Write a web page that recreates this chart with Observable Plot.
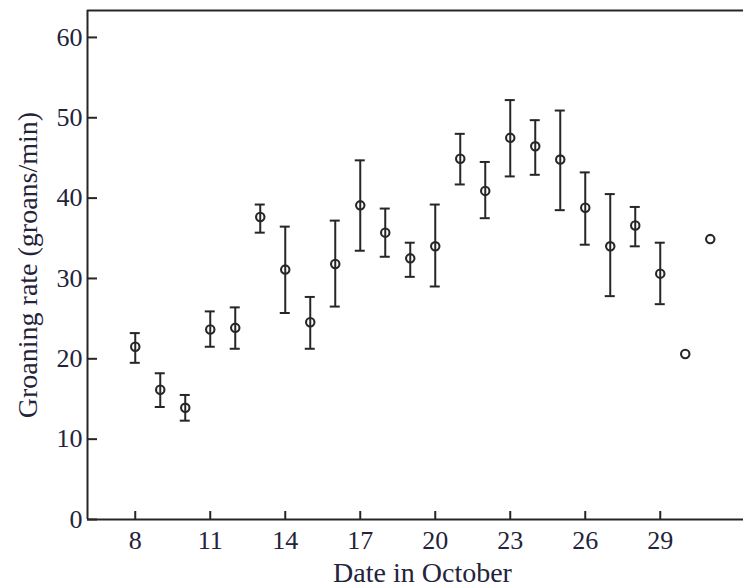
<!DOCTYPE html>
<html>
<head>
<meta charset="utf-8">
<script src="https://cdn.jsdelivr.net/npm/d3@7"></script>
<script src="https://cdn.jsdelivr.net/npm/@observablehq/plot@0.6"></script>
<style>
  html, body { margin: 0; padding: 0; background: #fff; }
</style>
</head>
<body>
<div id="chart"></div>
<script>
const days = [8, 9, 10, 11, 12, 13, 14, 15, 16, 17, 18, 19, 20, 21, 22, 23, 24, 25, 26, 27, 28, 29, 30, 31];
const rate = [21.5, 16.15, 13.9, 23.65, 23.85, 37.65, 31.1, 24.55, 31.8, 39.1, 35.7, 32.5, 34.0, 44.9, 40.9, 47.5, 46.45, 44.8, 38.8, 34.0, 36.6, 30.6, 20.6, 34.9];
const low  = [19.5, 14.0, 12.3, 21.5, 21.25, 35.7, 25.7, 21.25, 26.5, 33.45, 32.7, 30.2, 29.0, 41.7, 37.5, 42.7, 42.9, 38.5, 34.2, 27.8, 34.0, 26.8, null, null];
const high = [23.2, 18.2, 15.5, 25.9, 26.4, 39.2, 36.45, 27.7, 37.2, 44.7, 38.7, 34.45, 39.2, 48.0, 44.5, 52.2, 49.7, 50.9, 43.2, 40.5, 38.9, 34.45, null, null];

const xTicks = [8, 11, 14, 17, 20, 23, 26, 29];
const yTicks = [0, 10, 20, 30, 40, 50, 60];
const xLabel = "Date in October";
const yLabel = "Groaning rate (groans/min)";
const xDomain = [6.09, 32.33];
const yDomain = [0, 63.35];
const capHalf = 0.2;

const data = days.map((d, i) => ({day: d, rate: rate[i], low: low[i], high: high[i]}));
const bars = data.filter(d => d.low != null);

const ink = "#262626";
const textInk = "#23233a";

const chart = Plot.plot({
  width: 743,
  height: 588,
  marginLeft: 87,
  marginRight: 0,
  marginTop: 10,
  marginBottom: 69,
  style: {fontFamily: "'Liberation Serif', 'DejaVu Serif', serif", fontSize: "26px", color: textInk, background: "#fff"},
  x: {domain: xDomain},
  y: {domain: yDomain},
  marks: [
    Plot.axisX({ticks: xTicks, tickSize: -8, tickPadding: 19, label: null, stroke: ink, strokeWidth: 2, fontSize: 26}),
    Plot.axisY({ticks: yTicks, tickSize: -10, tickPadding: 15, label: null, stroke: ink, strokeWidth: 2, fontSize: 26}),
    Plot.ruleX([xDomain[0]], {stroke: ink, strokeWidth: 2}),
    Plot.ruleY([yDomain[0], yDomain[1]], {stroke: ink, strokeWidth: 2}),
    Plot.ruleX(bars, {x: "day", y1: "low", y2: "high", stroke: ink, strokeWidth: 2}),
    Plot.ruleY(bars, {y: "low", x1: d => d.day - capHalf, x2: d => d.day + capHalf, stroke: ink, strokeWidth: 2}),
    Plot.ruleY(bars, {y: "high", x1: d => d.day - capHalf, x2: d => d.day + capHalf, stroke: ink, strokeWidth: 2}),
    Plot.dot(data, {x: "day", y: "rate", r: 4.2, stroke: ink, strokeWidth: 2.1, fill: "none"}),
    Plot.text([xLabel], {frameAnchor: "bottom", lineAnchor: "top", textAnchor: "middle", dy: 43, dx: 7, fontSize: 28, fill: textInk}),
    Plot.text([yLabel], {frameAnchor: "left", lineAnchor: "middle", textAnchor: "middle", dx: -59, rotate: -90, fontSize: 28, fill: textInk})
  ]
});
document.getElementById("chart").appendChild(chart);
</script>
</body>
</html>
